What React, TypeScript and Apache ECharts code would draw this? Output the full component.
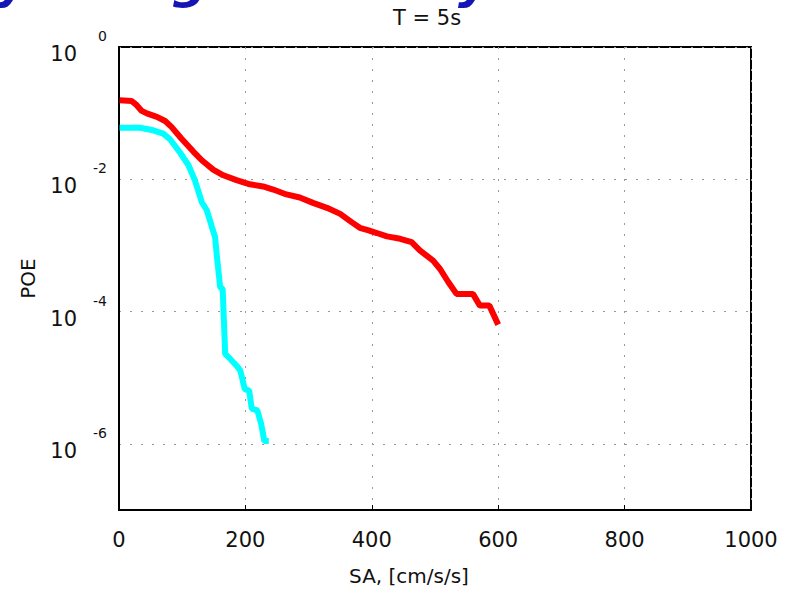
import React, { useEffect, useRef } from "react";
import * as echarts from "echarts";

const titleText = "T = 5s";
const xName = "SA, [cm/s/s]";
const yName = "POE";

const redSA = [1, 20, 28, 36, 44, 60, 73, 83, 99, 118, 131, 149, 165, 186, 207, 228, 244, 265, 286, 307, 329, 350, 368, 381, 395, 408, 424, 445, 463, 476, 497, 508, 521, 534, 560, 571, 586, 600];
const redPOE = [0.157, 0.153, 0.132, 0.108, 0.099, 0.088, 0.076, 0.062, 0.041, 0.026, 0.0194, 0.014, 0.0115, 0.0097, 0.0084, 0.0078, 0.007, 0.0059, 0.0053, 0.0044, 0.0037, 0.003, 0.00225, 0.00185, 0.00169, 0.00154, 0.00137, 0.00126, 0.00112, 0.00084, 0.00059, 0.00044, 0.00028, 0.000185, 0.000185, 0.000123, 0.000123, 0.0000635];

const cyanSA = [1, 33, 54, 70, 81, 97, 110, 120, 131, 139, 147, 152, 155, 159, 160, 164, 166, 168, 176, 186, 192, 199, 206, 210, 219, 225, 230, 237];
const cyanPOE = [0.06, 0.06, 0.055, 0.049, 0.04, 0.025, 0.0163, 0.0097, 0.0045, 0.0034, 0.0019, 0.00134, 0.00067, 0.000295, 0.000233, 0.000221, 0.000073, 0.0000229, 0.0000192, 0.0000152, 0.0000128, 0.0000067, 0.0000064, 0.0000034, 0.0000032, 0.000002, 0.0000011, 0.0000011];

const xMin = 0;
const xMax = 1000;
const xStep = 200;
const yMin = 1e-7;
const yMax = 1;

const FONT = '"DejaVu Sans", Verdana, sans-serif';

export default function App() {
  const ref = useRef<HTMLDivElement>(null);
  useEffect(() => {
    if (!ref.current) return;
    const chart = echarts.init(ref.current, undefined, { renderer: "svg" });
    const pairs = (xs: number[], ys: number[]) => xs.map((x, i) => [x, ys[i]]);
    const fragStyle = {
      fontFamily: FONT,
      fontSize: 50,
      fontStyle: "italic",
      fontWeight: "bold",
      fill: "#1515b5",
      verticalAlign: "middle",
      align: "left",
    };
    chart.setOption({
      animation: false,
      backgroundColor: "#fff",
      title: {
        text: titleText,
        left: 388,
        top: 2,
        textStyle: { fontFamily: FONT, fontSize: 21, fontWeight: "normal", color: "#111" },
      },
      graphic: [
        { type: "text", x: -4, y: -19, style: { ...fragStyle, text: "y" } },
        { type: "text", x: 172, y: -19, style: { ...fragStyle, text: "g" } },
        { type: "text", x: 458, y: -19, style: { ...fragStyle, text: "y" } },
      ],
      grid: {
        left: 119,
        right: 43,
        top: 47,
        bottom: 90,
        show: true,
        borderColor: "#000",
        borderWidth: 2,
        backgroundColor: "transparent",
      },
      xAxis: {
        type: "value",
        min: xMin,
        max: xMax,
        interval: xStep,
        name: xName,
        nameLocation: "middle",
        nameGap: 56,
        nameTextStyle: { fontFamily: FONT, fontSize: 20, color: "#111", padding: [0, 52, 0, 0] },
        axisLine: { show: true, lineStyle: { color: "#000", width: 2 } },
        axisTick: { show: true, inside: true, length: 5, lineStyle: { color: "#000", width: 1 } },
        axisLabel: { fontFamily: FONT, fontSize: 21, color: "#111", margin: 19, formatter: (v: number) => String(v) },
        splitLine: { show: true, lineStyle: { color: "#999", width: 1, type: [2, 9] } },
      },
      yAxis: {
        type: "log",
        logBase: 10,
        min: yMin,
        max: yMax,
        name: yName,
        nameLocation: "middle",
        nameRotate: 90,
        nameGap: 81,
        nameTextStyle: { fontFamily: FONT, fontSize: 20, color: "#111" },
        axisLine: { show: true, lineStyle: { color: "#000", width: 2 } },
        axisTick: { show: false },
        axisLabel: {
          margin: 12,
          formatter: (v: number) => {
            const e = Math.round(Math.log10(v));
            if (e % 2 !== 0) return "";
            return `{e|${e}}\n{b|10}`;
          },
          rich: {
            e: { fontFamily: FONT, fontSize: 14, lineHeight: 14, color: "#111" },
            b: { fontFamily: FONT, fontSize: 21, lineHeight: 22, color: "#111", padding: [0, 30, 0, 0] },
          },
        },
        splitLine: {
          show: true,
          lineStyle: { color: ["rgba(0,0,0,0)", "#999"], width: 1, type: [2, 9] },
        },
      },
      series: [
        {
          type: "line",
          data: pairs(redSA, redPOE),
          showSymbol: false,
          lineStyle: { color: "#ff0000", width: 6 },
          itemStyle: { color: "#ff0000" },
        },
        {
          type: "line",
          data: pairs(cyanSA, cyanPOE),
          showSymbol: false,
          lineStyle: { color: "#00ffff", width: 6 },
          itemStyle: { color: "#00ffff" },
        },
      ],
    });
    return () => chart.dispose();
  }, []);
  return <div ref={ref} style={{ width: 794, height: 600, position: "absolute", left: 0, top: 0 }} />;
}
